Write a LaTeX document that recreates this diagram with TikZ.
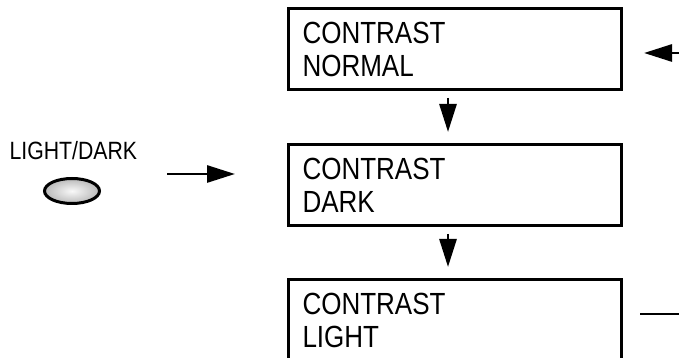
\documentclass[tikz,border=0pt]{standalone}
\usepackage{fontspec}
\newfontfamily\panelfont[FakeStretch=0.85]{Liberation Sans}
\usetikzlibrary{arrows.meta, positioning, shapes.geometric}

\begin{document}
\begin{tikzpicture}[
    x=1pt, y=1pt,
    screen/.style={rectangle, draw, line width=3pt, minimum width=333pt, minimum height=81pt,
        text width=305pt, inner xsep=14pt, align=left, font=\panelfont\fontsize{30.6}{33}\selectfont},
    arrow/.style={-{Triangle[length=28pt, width=17pt]}, line width=2.8pt},
    button/.style={ellipse, draw, line width=3pt, minimum width=55pt, minimum height=25pt,
        inner color=gray!5, outer color=gray!55}
]
\useasboundingbox (0,0) rectangle (679,358);

\node[screen] at (455,308.5) (normal) {CONTRAST\\NORMAL};
\node[screen, below=52pt of normal] (dark) {CONTRAST\\DARK};
\node[screen, below=51pt of dark] (light) {CONTRAST\\LIGHT};

\node[anchor=base west, font=\panelfont\fontsize{25}{28}\selectfont] (keylabel) at (6,198) {LIGHT/DARK};
\node[button] (lightdark) at (72,167) {};

\coordinate (keyout) at (167,184);
\coordinate (keyin) at (235,184);
\coordinate (loopin) at (700,305);
\coordinate (looptip) at (644,305);
\coordinate (loopout) at (640,44);
\coordinate (loopend) at (700,44);

\draw[arrow, shorten <=6.5pt, shorten >=11.5pt] ([xshift=-7pt]normal.south) -- ([xshift=-7pt]dark.north);
\draw[arrow, shorten <=6.5pt, shorten >=11.5pt] ([xshift=-7pt]dark.south) -- ([xshift=-7pt]light.north);
\draw[arrow] (keyout) -- (keyin);
\draw[arrow] (loopin) -- (looptip);
\draw[line width=2.8pt] (loopout) -- (loopend);

\end{tikzpicture}
\end{document}
